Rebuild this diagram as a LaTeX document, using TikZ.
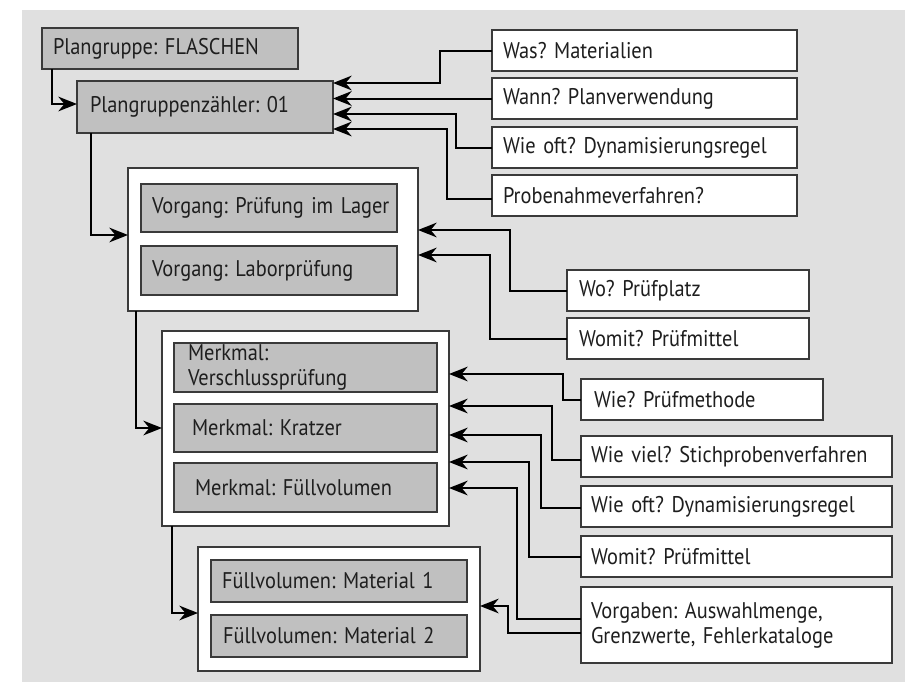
\documentclass[tikz,border=0pt]{standalone}
\usepackage{fontspec}
\setmainfont{PT Sans}[FakeStretch=0.9]
\usetikzlibrary{arrows.meta}
\definecolor{bgc}{HTML}{E0E0E0}
\definecolor{boxg}{HTML}{C0C0C0}
\definecolor{edge}{HTML}{3A3A3A}
\definecolor{txt}{HTML}{1E1E1E}
\newcommand{\mybox}[8]{%
 \pgfmathsetmacro{\bw}{(#5-#3-2*#7)*0.75}%
 \pgfmathsetmacro{\bh}{(#6-#4)*0.75}%
 \pgfmathsetmacro{\bp}{#7*0.75}%
 \node[#2, anchor=north west, minimum height=\bh pt, text width=\bw pt, inner xsep=\bp pt, inner ysep=0pt] (#1) at (#3,#4) {#8};}
\begin{document}
\frenchspacing
\begin{tikzpicture}[x=0.75pt,y=-0.75pt,
  base/.style={draw=edge, line width=0.9pt, align=left, text=txt, font=\fontsize{17pt}{19pt}\selectfont, outer sep=0pt},
  gbox/.style={base, fill=boxg},
  wbox/.style={base, fill=white},
  conn/.style={line width=1.5pt, black, -{Stealth[length=14pt,width=11pt,inset=4.5pt]}}]
\useasboundingbox (0,0) rectangle (905,682);
\fill[bgc] (22,10) rectangle (905,682);
% left column
\mybox{pg}{gbox}{42}{28}{298}{69}{11}{Plangruppe: FLASCHEN}
\mybox{pz}{gbox}{77}{81}{333}{133}{13}{Plangruppenzähler: 01}
\mybox{vo}{wbox}{128}{168}{418}{311}{0}{}
\mybox{v1}{gbox}{141}{184}{397}{232}{11}{\mbox{Vorgang: Prüfung im Lager}}
\mybox{v2}{gbox}{141}{246}{397}{295}{11}{Vorgang: Laborprüfung}
\mybox{mo}{wbox}{162}{331}{449}{526}{0}{}
\mybox{m1}{gbox}{174}{343}{437}{392}{14}{\fontsize{17pt}{15.75pt}\selectfont Merkmal:\\Verschlussprüfung}
\mybox{m2}{gbox}{174}{404}{437}{452}{18}{Merkmal: Kratzer}
\mybox{m3}{gbox}{174}{463}{437}{512}{21}{Merkmal: Füllvolumen}
\mybox{fo}{wbox}{198}{547}{480}{671}{0}{}
\mybox{f1}{gbox}{211}{560}{467}{602}{11}{Füllvolumen: Material 1}
\mybox{f2}{gbox}{211}{615}{467}{657}{12}{Füllvolumen: Material 2}
% right column
\mybox{was}{wbox}{492}{30}{797}{71}{11}{Was? Materialien}
\mybox{wann}{wbox}{492}{78}{797}{119}{11}{Wann? Planverwendung}
\mybox{wieoft}{wbox}{492}{127}{797}{168}{11}{Wie oft? Dynamisierungsregel}
\mybox{probe}{wbox}{492}{175}{797}{216}{11}{Probenahmeverfahren?}
\mybox{wo}{wbox}{567}{270}{809}{311}{12}{Wo? Prüfplatz}
\mybox{womA}{wbox}{567}{318}{809}{359}{12}{Womit? Prüfmittel}
\mybox{pm}{wbox}{581}{379}{823}{420}{13}{Wie? Prüfmethode}
\mybox{st}{wbox}{581}{436}{892}{477}{10}{\mbox{Wie viel? Stichprobenverfahren}}
\mybox{dy}{wbox}{581}{486}{892}{527}{10}{Wie oft? Dynamisierungsregel}
\mybox{womB}{wbox}{581}{536}{892}{577}{10}{Womit? Prüfmittel}
\mybox{vg}{wbox}{581}{587}{892}{663}{10}{\fontsize{17pt}{20pt}\selectfont Vorgaben: Auswahlmenge,\\Grenzwerte, Fehlerkataloge}
% hierarchy connectors
\draw[conn] (pg.south -| 52,0) |- (pz.west |- 0,104);
\draw[conn] (pz.south -| 91,0) |- (vo.west |- 0,235);
\draw[conn] (vo.south -| 136,0) |- (mo.west |- 0,428);
\draw[conn] (mo.south -| 172,0) |- (fo.west |- 0,613);
% top group
\draw[conn] (was.west) -| (440,83) -- (pz.east |- 0,83);
\draw[conn] (wann.west) -- (pz.east |- wann.west);
\draw[conn] (wieoft.west) -| (456,114) -- (pz.east |- 0,114);
\draw[conn] (probe.west |- 0,199) -| (447,129) -- (pz.east |- 0,129);
% middle group
\draw[conn] (wo.west) -| (510,230) -- (vo.east |- 0,230);
\draw[conn] (womA.west) -| (490,255) -- (vo.east |- 0,255);
% lower group
\draw[conn] (pm.west) -| (563,374) -- (mo.east |- 0,374);
\draw[conn] (st.west |- 0,460) -| (552,406) -- (mo.east |- 0,406);
\draw[conn] (dy.west |- 0,508) -| (541,435) -- (mo.east |- 0,435);
\draw[conn] (womB.west) -| (529,462) -- (mo.east |- 0,462);
\draw[conn] (vg.west |- 0,619) -| (517,488) -- (mo.east |- 0,488);
\draw[conn] (vg.west |- 0,633) -| (508,606) -- (fo.east |- 0,606);
\end{tikzpicture}
\end{document}
